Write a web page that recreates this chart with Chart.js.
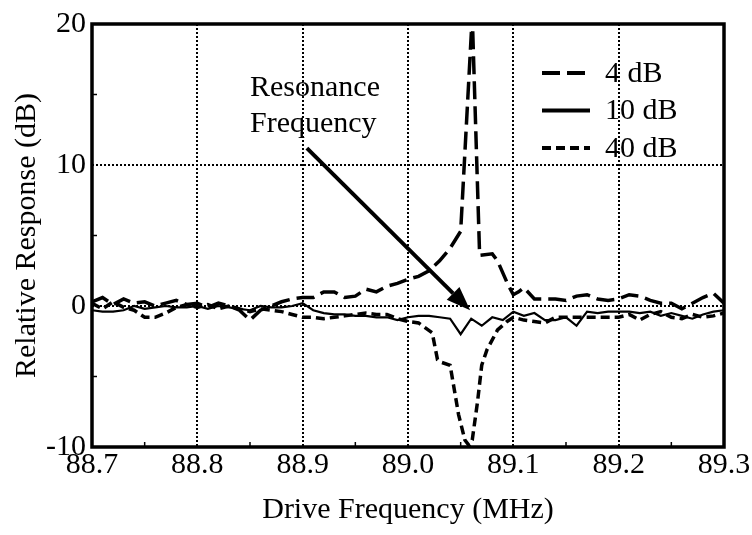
<!DOCTYPE html>
<html>
<head>
<meta charset="utf-8">
<script src="https://cdn.jsdelivr.net/npm/chart.js@4"></script>
<style>
  html, body { margin: 0; padding: 0; background: #fff; }
  #wrap { width: 752px; height: 535px; position: relative; }
</style>
</head>
<body>
<div id="wrap"><canvas id="resp"></canvas></div>
<script>
// Drive frequency sweeps (MHz) and relative response (dB) for three drive levels
const freq4dB = [88.70, 88.71, 88.72, 88.73, 88.74, 88.75, 88.76, 88.77, 88.78, 88.79,
  88.80, 88.81, 88.82, 88.83, 88.84, 88.85, 88.86, 88.87, 88.88, 88.89,
  88.90, 88.91, 88.92, 88.93, 88.94, 88.95, 88.96, 88.97, 88.98, 88.99,
  89.00, 89.01, 89.02, 89.03, 89.04, 89.05, 89.061, 89.068, 89.08, 89.085,
  89.095, 89.10, 89.105, 89.11, 89.12, 89.13, 89.14, 89.15, 89.16, 89.17,
  89.18, 89.19, 89.20, 89.21, 89.22, 89.23, 89.24, 89.25, 89.26, 89.27,
  89.28, 89.29, 89.30];
const resp4dB = [0.3, 0.6, 0.1, 0.5, 0.2, 0.3, 0.0, 0.2, 0.4, 0.1,
  0.2, -0.1, 0.2, 0.0, -0.3, -1.0, -0.3, 0.0, 0.3, 0.5,
  0.6, 0.6, 1.0, 1.0, 0.6, 0.7, 1.2, 1.0, 1.4, 1.6,
  1.9, 2.1, 2.5, 3.2, 4.1, 5.3, 20.6, 3.6, 3.7, 3.2,
  1.5, 0.8, 1.0, 1.3, 0.5, 0.5, 0.5, 0.4, 0.7, 0.8,
  0.5, 0.4, 0.5, 0.8, 0.7, 0.4, 0.2, 0.2, -0.2, 0.2,
  0.6, 0.9, 0.2];

const freq10dB = [88.70, 88.71, 88.72, 88.73, 88.74, 88.75, 88.76, 88.77, 88.78, 88.79,
  88.80, 88.81, 88.82, 88.83, 88.84, 88.85, 88.86, 88.87, 88.88, 88.89,
  88.90, 88.91, 88.92, 88.93, 88.94, 88.95, 88.96, 88.97, 88.98, 88.99,
  89.00, 89.01, 89.02, 89.03, 89.04, 89.05, 89.06, 89.07, 89.08, 89.09,
  89.10, 89.11, 89.12, 89.13, 89.14, 89.15, 89.16, 89.17, 89.18, 89.19,
  89.20, 89.21, 89.22, 89.23, 89.24, 89.25, 89.26, 89.27, 89.28, 89.29,
  89.30];
const resp10dB = [-0.3, -0.4, -0.4, -0.3, 0.0, -0.2, -0.1, 0.0, -0.1, -0.1,
  0.0, -0.2, 0.0, -0.1, -0.2, -0.3, 0.0, -0.1, -0.1, 0.0,
  0.2, -0.3, -0.5, -0.6, -0.6, -0.7, -0.7, -0.8, -0.8, -1.0,
  -0.8, -0.7, -0.7, -0.8, -0.9, -2.0, -0.9, -1.4, -0.8, -1.0,
  -0.4, -0.7, -0.5, -1.0, -1.0, -0.8, -1.4, -0.4, -0.5, -0.4,
  -0.4, -0.4, -0.5, -0.4, -0.7, -0.5, -0.7, -0.9, -0.6, -0.4,
  -0.3];

const freq40dB = [88.70, 88.71, 88.72, 88.73, 88.74, 88.75, 88.76, 88.77, 88.78, 88.79,
  88.80, 88.81, 88.82, 88.83, 88.84, 88.85, 88.86, 88.87, 88.88, 88.89,
  88.90, 88.91, 88.92, 88.93, 88.94, 88.95, 88.96, 88.97, 88.98, 88.99,
  89.00, 89.01, 89.023, 89.028, 89.032, 89.04, 89.048, 89.054, 89.058, 89.061,
  89.066, 89.07, 89.075, 89.085, 89.094, 89.10, 89.11, 89.12, 89.13, 89.14,
  89.15, 89.16, 89.17, 89.18, 89.19, 89.20, 89.21, 89.22, 89.23, 89.24,
  89.25, 89.26, 89.27, 89.28, 89.29, 89.30];
const resp40dB = [0.2, -0.2, 0.3, -0.1, -0.3, -0.8, -0.8, -0.5, -0.1, 0.1,
  -0.1, 0.1, -0.2, 0.0, -0.2, -0.4, -0.2, -0.3, -0.4, -0.6,
  -0.8, -0.8, -0.9, -0.8, -0.7, -0.6, -0.5, -0.6, -0.6, -0.9,
  -1.1, -1.2, -1.9, -3.8, -4.0, -4.2, -7.7, -9.5, -9.9, -9.5,
  -6.8, -4.2, -3.1, -1.7, -1.1, -0.8, -1.0, -1.1, -1.2, -0.8,
  -0.8, -0.8, -0.8, -0.8, -0.8, -0.8, -0.6, -1.0, -0.6, -0.4,
  -0.8, -0.9, -0.6, -0.8, -0.7, -0.5];

const seriesLabels = ['4 dB', '10 dB', '40 dB'];
const xTicks = [88.7, 88.8, 88.9, 89.0, 89.1, 89.2, 89.3];
const yTicks = [-10, 0, 10, 20];
const xMinor = [88.75, 88.85, 88.95, 89.05, 89.15, 89.25];
const yMinor = [-5, 5, 15];

// callout: label anchor, arrow tail and arrow tip in data units
const calloutText = ['Resonance', 'Frequency'];
const calloutAt = { x: 88.850, y: 14.9 };
const arrowFrom = { x: 88.904, y: 11.2 };
const arrowTo = { x: 89.059, y: -0.3 };

const FONT = "'Liberation Serif', 'Times New Roman', serif";
Chart.defaults.font.family = FONT;
Chart.defaults.color = '#000';

const pts = (xs, ys) => xs.map((x, i) => ({ x: x, y: ys[i] }));

const dashStyles = [[18, 7], [], [9, 5]];
const widths = [3.5, 2.2, 3.5];

// thick frame, minor ticks, callout arrow and legend drawn over the plot
const framePlugin = {
  id: 'frame',
  afterDatasetsDraw(chart) {
    const { ctx, chartArea: a, scales: { x, y } } = chart;
    ctx.save();
    ctx.strokeStyle = '#000';
    ctx.lineWidth = 1.5;
    xMinor.forEach(v => {
      const px = x.getPixelForValue(v);
      ctx.beginPath(); ctx.moveTo(px, a.bottom); ctx.lineTo(px, a.bottom - 5); ctx.stroke();
    });
    yMinor.forEach(v => {
      const py = y.getPixelForValue(v);
      ctx.beginPath(); ctx.moveTo(a.left, py); ctx.lineTo(a.left + 5, py); ctx.stroke();
    });
    ctx.lineWidth = 3.5;
    ctx.strokeRect(a.left, a.top, a.right - a.left, a.bottom - a.top);

    // callout text and arrow
    ctx.fillStyle = '#000';
    ctx.font = '30px ' + FONT;
    ctx.textBaseline = 'alphabetic';
    ctx.textAlign = 'left';
    const tx = x.getPixelForValue(calloutAt.x);
    const ty = y.getPixelForValue(calloutAt.y);
    calloutText.forEach((t, i) => ctx.fillText(t, tx, ty + i * 36));

    const x0 = x.getPixelForValue(arrowFrom.x), y0 = y.getPixelForValue(arrowFrom.y);
    const x1 = x.getPixelForValue(arrowTo.x), y1 = y.getPixelForValue(arrowTo.y);
    const ang = Math.atan2(y1 - y0, x1 - x0);
    const headLen = 24, headW = 9;
    const bx = x1 - headLen * Math.cos(ang), by = y1 - headLen * Math.sin(ang);
    ctx.lineWidth = 4;
    ctx.beginPath(); ctx.moveTo(x0, y0); ctx.lineTo(bx, by); ctx.stroke();
    ctx.beginPath();
    ctx.moveTo(x1, y1);
    ctx.lineTo(bx + headW * Math.sin(ang), by - headW * Math.cos(ang));
    ctx.lineTo(bx - headW * Math.sin(ang), by + headW * Math.cos(ang));
    ctx.closePath();
    ctx.fill();

    // legend
    const lx0 = a.right - 182, lx1 = a.right - 134;
    chart.data.datasets.forEach((ds, i) => {
      const ly = a.top + 49 + i * 37.5;
      ctx.lineWidth = 4;
      ctx.setLineDash(ds.borderDash || []);
      ctx.beginPath(); ctx.moveTo(lx0, ly); ctx.lineTo(lx1, ly); ctx.stroke();
      ctx.setLineDash([]);
      ctx.textBaseline = 'middle';
      ctx.fillText(ds.label, lx1 + 15, ly + 1);
    });
    ctx.restore();
  }
};

const edgeColor = (c, n) => (c.index === 0 || c.index === n - 1) ? 'rgba(0,0,0,0)' : '#000';

new Chart(document.getElementById('resp'), {
  type: 'line',
  data: {
    datasets: [
      { label: seriesLabels[0], data: pts(freq4dB, resp4dB) },
      { label: seriesLabels[1], data: pts(freq10dB, resp10dB) },
      { label: seriesLabels[2], data: pts(freq40dB, resp40dB) }
    ].map((ds, i) => Object.assign(ds, {
      borderColor: '#000',
      borderWidth: widths[i],
      borderDash: dashStyles[i],
      pointRadius: 0,
      tension: 0,
      fill: false
    }))
  },
  options: {
    responsive: true,
    maintainAspectRatio: false,
    animation: false,
    events: [],
    layout: { padding: { top: 13, right: 28, left: 0, bottom: 0 } },
    plugins: { legend: { display: false }, tooltip: { enabled: false } },
    scales: {
      x: {
        type: 'linear',
        min: 88.7, max: 89.3,
        afterBuildTicks: s => { s.ticks = xTicks.map(v => ({ value: v })); },
        afterFit: s => { s.height = 88; },
        ticks: {
          font: { size: 30 },
          padding: 0,
          maxRotation: 0,
          callback: v => v.toFixed(1)
        },
        grid: {
          drawTicks: false,
          lineWidth: 2,
          color: c => edgeColor(c, xTicks.length)
        },
        border: { display: false, dash: [2, 2] },
        title: {
          display: true,
          text: 'Drive Frequency (MHz)',
          font: { size: 30 },
          padding: { top: 0, bottom: 7 }
        }
      },
      y: {
        type: 'linear',
        min: -10, max: 20,
        afterBuildTicks: s => { s.ticks = yTicks.map(v => ({ value: v })); },
        afterFit: s => { s.width = 92; },
        ticks: {
          font: { size: 30 },
          padding: 6,
          callback: v => String(v)
        },
        grid: {
          drawTicks: false,
          lineWidth: 2,
          color: c => edgeColor(c, yTicks.length)
        },
        border: { display: false, dash: [2, 2] },
        title: {
          display: true,
          text: 'Relative Response (dB)',
          font: { size: 30 },
          padding: { top: 9, bottom: 0 }
        }
      }
    }
  },
  plugins: [framePlugin]
});
</script>
</body>
</html>
